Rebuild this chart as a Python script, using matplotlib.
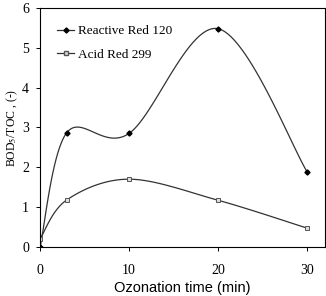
import numpy as np
import matplotlib
matplotlib.use("Agg")
import matplotlib.pyplot as plt

# Data
time_min = [0, 3, 10, 20, 30]
reactive_red_120 = [0.0, 2.87, 2.85, 5.48, 1.88]
acid_red_299 = [0.2, 1.18, 1.70, 1.17, 0.47]


def smooth(x, y, n=30):
    # Catmull-Rom style smoothing, like a spreadsheet "smoothed line"
    x = np.asarray(x, float)
    y = np.asarray(y, float)
    px = np.concatenate([[x[0]], x, [x[-1]]])
    py = np.concatenate([[y[0]], y, [y[-1]]])
    xs, ys = [], []
    t = np.linspace(0, 1, n)
    for i in range(1, len(px) - 2):
        p0, p1, p2, p3 = (np.array([px[j], py[j]]) for j in (i - 1, i, i + 1, i + 2))
        c1 = p1 + (p2 - p0) / 6
        c2 = p2 - (p3 - p1) / 6
        b = ((1 - t) ** 3)[:, None] * p1 + (3 * (1 - t) ** 2 * t)[:, None] * c1 \
            + (3 * (1 - t) * t ** 2)[:, None] * c2 + (t ** 3)[:, None] * p2
        xs.extend(b[:, 0])
        ys.extend(b[:, 1])
    return xs, ys


plt.rcParams["font.family"] = "Liberation Serif"
plt.rcParams["mathtext.fontset"] = "stix"

fig = plt.figure(figsize=(3.26, 2.96), dpi=100)
ax = fig.add_axes([0.123, 0.166, 0.874, 0.807])

sx, sy = smooth(time_min, reactive_red_120)
ax.plot(sx, sy, color="#333333", lw=0.9)
ax.plot(time_min, reactive_red_120, ls="none", marker="D", ms=2.6, color="black")
sx, sy = smooth(time_min, acid_red_299)
ax.plot(sx, sy, color="#333333", lw=0.9)
ax.plot(time_min, acid_red_299, ls="none", marker="s", ms=3, mfc="#dddddd",
        mec="#555555", mew=0.7)

# legend handles
ax.plot([], [], color="#333333", lw=0.9, marker="D", ms=2.6, mfc="black",
        mec="black", label="Reactive Red 120")
ax.plot([], [], color="#333333", lw=0.9, marker="s", ms=3, mfc="#dddddd",
        mec="#555555", label="Acid Red 299")
ax.legend(loc="upper left", frameon=False, fontsize=9.5, handlelength=1.3,
          handletextpad=0.3, labelspacing=0.85, borderaxespad=0.9)

ax.set_xlim(0, 32)
ax.set_ylim(0, 6)
ax.set_xticks([0, 10, 20, 30])
ax.set_yticks(range(7))
ax.tick_params(direction="out", length=3, labelsize=10, width=0.7)
ax.tick_params(axis="x", pad=9)
ax.tick_params(axis="y", pad=5)
for s in ax.spines.values():
    s.set_linewidth(0.8)
ax.set_xlabel("Ozonation time (min)", fontfamily="Liberation Sans", fontsize=10.5, labelpad=3)
ax.set_ylabel("BOD$_5$/TOC , (-)", fontsize=8.5)
ax.yaxis.set_label_coords(-0.07, 0.5)

fig.savefig("out.png", dpi=100)
